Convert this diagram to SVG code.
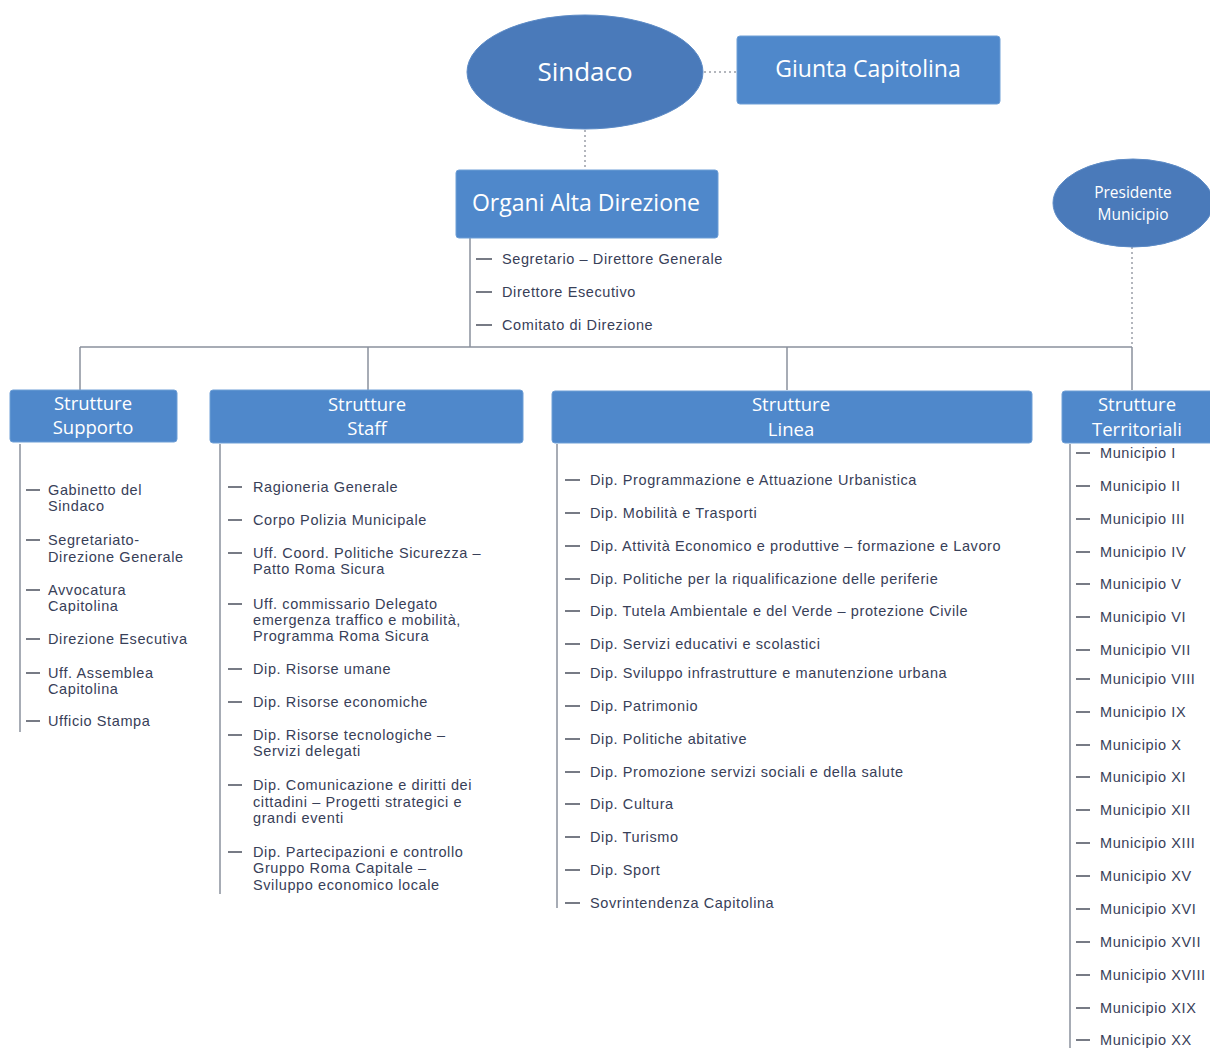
<svg xmlns="http://www.w3.org/2000/svg" width="1210" height="1050" viewBox="0 0 1210 1050">
<style>
.bg{fill:#ffffff}
.ell{fill:#4a7aba;stroke:#5d8bc6;stroke-width:1}
.box{fill:#4f88cb;stroke:#6f9fd6;stroke-width:1}
.t1{font-family:"Open Sans","Noto Sans",sans-serif;fill:#ffffff;text-anchor:middle}
.big{font-size:23px}
.sind{font-size:26px}
.hd{font-size:18.5px}
.sm{font-size:15.5px}
.it{font-family:"Liberation Sans",Arial,sans-serif;font-size:14.5px;letter-spacing:0.6px;fill:#384058}
.ln{stroke:#8a909c;stroke-width:1.5;fill:none}
.dot{stroke:#9a9ea8;stroke-width:1.5;stroke-dasharray:2 3;fill:none}
.dash{stroke:#4a4f5c;stroke-width:1.5}
</style>
<rect class="bg" x="0" y="0" width="1210" height="1050"/>

<g id="connectors">
  <line class="dot" x1="704" y1="72" x2="737" y2="72"/>
  <line class="dot" x1="585" y1="130" x2="585" y2="170"/>
  <line class="dot" x1="1132" y1="247" x2="1132" y2="347"/>
  <line class="ln" x1="470" y1="238" x2="470" y2="347"/>
  <line class="ln" x1="80" y1="347" x2="1132" y2="347"/>
  <line class="ln" x1="80" y1="347" x2="80" y2="390"/>
  <line class="ln" x1="368" y1="347" x2="368" y2="390"/>
  <line class="ln" x1="787" y1="347" x2="787" y2="390"/>
  <line class="ln" x1="1132" y1="347" x2="1132" y2="390"/>
  <line class="ln" x1="20" y1="444" x2="20" y2="732"/>
  <line class="ln" x1="220" y1="444" x2="220" y2="894"/>
  <line class="ln" x1="557" y1="444" x2="557" y2="908"/>
  <line class="ln" x1="1070" y1="444" x2="1070" y2="1048"/>
</g>

<g id="sindaco">
  <ellipse class="ell" cx="585" cy="72" rx="118" ry="57"/>
  <text class="t1 sind" x="585" y="81">Sindaco</text>
</g>

<g id="giunta">
  <rect class="box" x="737" y="36" width="263" height="68" rx="3"/>
  <text class="t1 big" x="868" y="77">Giunta  Capitolina</text>
</g>

<g id="organi">
  <rect class="box" x="456" y="170" width="262" height="68" rx="3"/>
  <text class="t1 big" x="586" y="211">Organi Alta Direzione</text>
  <line class="dash" x1="476" y1="259" x2="492" y2="259"/>
  <text class="it" x="502" y="264">Segretario – Direttore Generale</text>
  <line class="dash" x1="476" y1="292" x2="492" y2="292"/>
  <text class="it" x="502" y="297">Direttore Esecutivo</text>
  <line class="dash" x1="476" y1="325" x2="492" y2="325"/>
  <text class="it" x="502" y="330">Comitato di Direzione</text>
</g>

<g id="presidente">
  <ellipse class="ell" cx="1133" cy="203" rx="80" ry="44"/>
  <text class="t1 sm" x="1133" y="198">Presidente</text>
  <text class="t1 sm" x="1133" y="220">Municipio</text>
</g>

<g id="supporto-list">
  <line class="dash" x1="26" y1="490" x2="40" y2="490"/>
  <text class="it" x="48" y="495">Gabinetto del</text>
  <text class="it" x="48" y="511">Sindaco</text>
  <line class="dash" x1="26" y1="540" x2="40" y2="540"/>
  <text class="it" x="48" y="545">Segretariato-</text>
  <text class="it" x="48" y="562">Direzione Generale</text>
  <line class="dash" x1="26" y1="590" x2="40" y2="590"/>
  <text class="it" x="48" y="595">Avvocatura</text>
  <text class="it" x="48" y="611">Capitolina</text>
  <line class="dash" x1="26" y1="639" x2="40" y2="639"/>
  <text class="it" x="48" y="644">Direzione Esecutiva</text>
  <line class="dash" x1="26" y1="673" x2="40" y2="673"/>
  <text class="it" x="48" y="678">Uff. Assemblea</text>
  <text class="it" x="48" y="694">Capitolina</text>
  <line class="dash" x1="26" y1="721" x2="40" y2="721"/>
  <text class="it" x="48" y="726">Ufficio Stampa</text>
</g>

<g id="staff-list">
  <line class="dash" x1="228" y1="487" x2="242" y2="487"/>
  <text class="it" x="253" y="492">Ragioneria Generale</text>
  <line class="dash" x1="228" y1="520" x2="242" y2="520"/>
  <text class="it" x="253" y="525">Corpo Polizia Municipale</text>
  <line class="dash" x1="228" y1="553" x2="242" y2="553"/>
  <text class="it" x="253" y="558">Uff. Coord. Politiche Sicurezza –</text>
  <text class="it" x="253" y="574">Patto Roma Sicura</text>
  <line class="dash" x1="228" y1="604" x2="242" y2="604"/>
  <text class="it" x="253" y="609">Uff. commissario Delegato</text>
  <text class="it" x="253" y="625">emergenza traffico e mobilità,</text>
  <text class="it" x="253" y="641">Programma Roma Sicura</text>
  <line class="dash" x1="228" y1="669" x2="242" y2="669"/>
  <text class="it" x="253" y="674">Dip. Risorse umane</text>
  <line class="dash" x1="228" y1="702" x2="242" y2="702"/>
  <text class="it" x="253" y="707">Dip. Risorse economiche</text>
  <line class="dash" x1="228" y1="735" x2="242" y2="735"/>
  <text class="it" x="253" y="740">Dip. Risorse tecnologiche –</text>
  <text class="it" x="253" y="756">Servizi delegati</text>
  <line class="dash" x1="228" y1="785" x2="242" y2="785"/>
  <text class="it" x="253" y="790">Dip. Comunicazione e diritti dei</text>
  <text class="it" x="253" y="807">cittadini – Progetti strategici e</text>
  <text class="it" x="253" y="823">grandi eventi</text>
  <line class="dash" x1="228" y1="852" x2="242" y2="852"/>
  <text class="it" x="253" y="857">Dip. Partecipazioni e controllo</text>
  <text class="it" x="253" y="873">Gruppo Roma  Capitale –</text>
  <text class="it" x="253" y="890">Sviluppo economico locale</text>
</g>

<g id="linea-list">
  <line class="dash" x1="565" y1="480" x2="580" y2="480"/>
  <text class="it" x="590" y="485">Dip. Programmazione e Attuazione Urbanistica</text>
  <line class="dash" x1="565" y1="513" x2="580" y2="513"/>
  <text class="it" x="590" y="518">Dip. Mobilità e Trasporti</text>
  <line class="dash" x1="565" y1="546" x2="580" y2="546"/>
  <text class="it" x="590" y="551">Dip. Attività Economico e produttive – formazione e Lavoro</text>
  <line class="dash" x1="565" y1="579" x2="580" y2="579"/>
  <text class="it" x="590" y="584">Dip. Politiche per la riqualificazione delle periferie</text>
  <line class="dash" x1="565" y1="611" x2="580" y2="611"/>
  <text class="it" x="590" y="616">Dip. Tutela Ambientale e del Verde – protezione Civile</text>
  <line class="dash" x1="565" y1="644" x2="580" y2="644"/>
  <text class="it" x="590" y="649">Dip. Servizi educativi e scolastici</text>
  <line class="dash" x1="565" y1="673" x2="580" y2="673"/>
  <text class="it" x="590" y="678">Dip. Sviluppo infrastrutture e manutenzione urbana</text>
  <line class="dash" x1="565" y1="706" x2="580" y2="706"/>
  <text class="it" x="590" y="711">Dip. Patrimonio</text>
  <line class="dash" x1="565" y1="739" x2="580" y2="739"/>
  <text class="it" x="590" y="744">Dip. Politiche abitative</text>
  <line class="dash" x1="565" y1="772" x2="580" y2="772"/>
  <text class="it" x="590" y="777">Dip. Promozione servizi sociali e della salute</text>
  <line class="dash" x1="565" y1="804" x2="580" y2="804"/>
  <text class="it" x="590" y="809">Dip. Cultura</text>
  <line class="dash" x1="565" y1="837" x2="580" y2="837"/>
  <text class="it" x="590" y="842">Dip. Turismo</text>
  <line class="dash" x1="565" y1="870" x2="580" y2="870"/>
  <text class="it" x="590" y="875">Dip. Sport</text>
  <line class="dash" x1="565" y1="903" x2="580" y2="903"/>
  <text class="it" x="590" y="908">Sovrintendenza Capitolina</text>
</g>

<g id="territoriali-list">
  <line class="dash" x1="1076" y1="453" x2="1090" y2="453"/>
  <text class="it" x="1100" y="458">Municipio I</text>
  <line class="dash" x1="1076" y1="486" x2="1090" y2="486"/>
  <text class="it" x="1100" y="491">Municipio II</text>
  <line class="dash" x1="1076" y1="519" x2="1090" y2="519"/>
  <text class="it" x="1100" y="524">Municipio III</text>
  <line class="dash" x1="1076" y1="552" x2="1090" y2="552"/>
  <text class="it" x="1100" y="557">Municipio IV</text>
  <line class="dash" x1="1076" y1="584" x2="1090" y2="584"/>
  <text class="it" x="1100" y="589">Municipio V</text>
  <line class="dash" x1="1076" y1="617" x2="1090" y2="617"/>
  <text class="it" x="1100" y="622">Municipio VI</text>
  <line class="dash" x1="1076" y1="650" x2="1090" y2="650"/>
  <text class="it" x="1100" y="655">Municipio VII</text>
  <line class="dash" x1="1076" y1="679" x2="1090" y2="679"/>
  <text class="it" x="1100" y="684">Municipio VIII</text>
  <line class="dash" x1="1076" y1="712" x2="1090" y2="712"/>
  <text class="it" x="1100" y="717">Municipio IX</text>
  <line class="dash" x1="1076" y1="745" x2="1090" y2="745"/>
  <text class="it" x="1100" y="750">Municipio X</text>
  <line class="dash" x1="1076" y1="777" x2="1090" y2="777"/>
  <text class="it" x="1100" y="782">Municipio XI</text>
  <line class="dash" x1="1076" y1="810" x2="1090" y2="810"/>
  <text class="it" x="1100" y="815">Municipio XII</text>
  <line class="dash" x1="1076" y1="843" x2="1090" y2="843"/>
  <text class="it" x="1100" y="848">Municipio XIII</text>
  <line class="dash" x1="1076" y1="876" x2="1090" y2="876"/>
  <text class="it" x="1100" y="881">Municipio XV</text>
  <line class="dash" x1="1076" y1="909" x2="1090" y2="909"/>
  <text class="it" x="1100" y="914">Municipio XVI</text>
  <line class="dash" x1="1076" y1="942" x2="1090" y2="942"/>
  <text class="it" x="1100" y="947">Municipio XVII</text>
  <line class="dash" x1="1076" y1="975" x2="1090" y2="975"/>
  <text class="it" x="1100" y="980">Municipio XVIII</text>
  <line class="dash" x1="1076" y1="1008" x2="1090" y2="1008"/>
  <text class="it" x="1100" y="1013">Municipio XIX</text>
  <line class="dash" x1="1076" y1="1040" x2="1090" y2="1040"/>
  <text class="it" x="1100" y="1045">Municipio XX</text>
</g>

<g id="supporto">
  <rect class="box" x="10" y="390" width="167" height="52" rx="3"/>
  <text class="t1 hd" x="93" y="410">Strutture</text>
  <text class="t1 hd" x="93" y="434">Supporto</text>
</g>
<g id="staff">
  <rect class="box" x="210" y="390" width="313" height="53" rx="3"/>
  <text class="t1 hd" x="367" y="411">Strutture</text>
  <text class="t1 hd" x="367" y="435">Staff</text>
</g>
<g id="linea">
  <rect class="box" x="552" y="391" width="480" height="52" rx="3"/>
  <text class="t1 hd" x="791" y="411">Strutture</text>
  <text class="t1 hd" x="791" y="436">Linea</text>
</g>
<g id="territoriali">
  <rect class="box" x="1062" y="391" width="152" height="52" rx="3"/>
  <text class="t1 hd" x="1137" y="411">Strutture</text>
  <text class="t1 hd" x="1137" y="436">Territoriali</text>
</g>
</svg>
